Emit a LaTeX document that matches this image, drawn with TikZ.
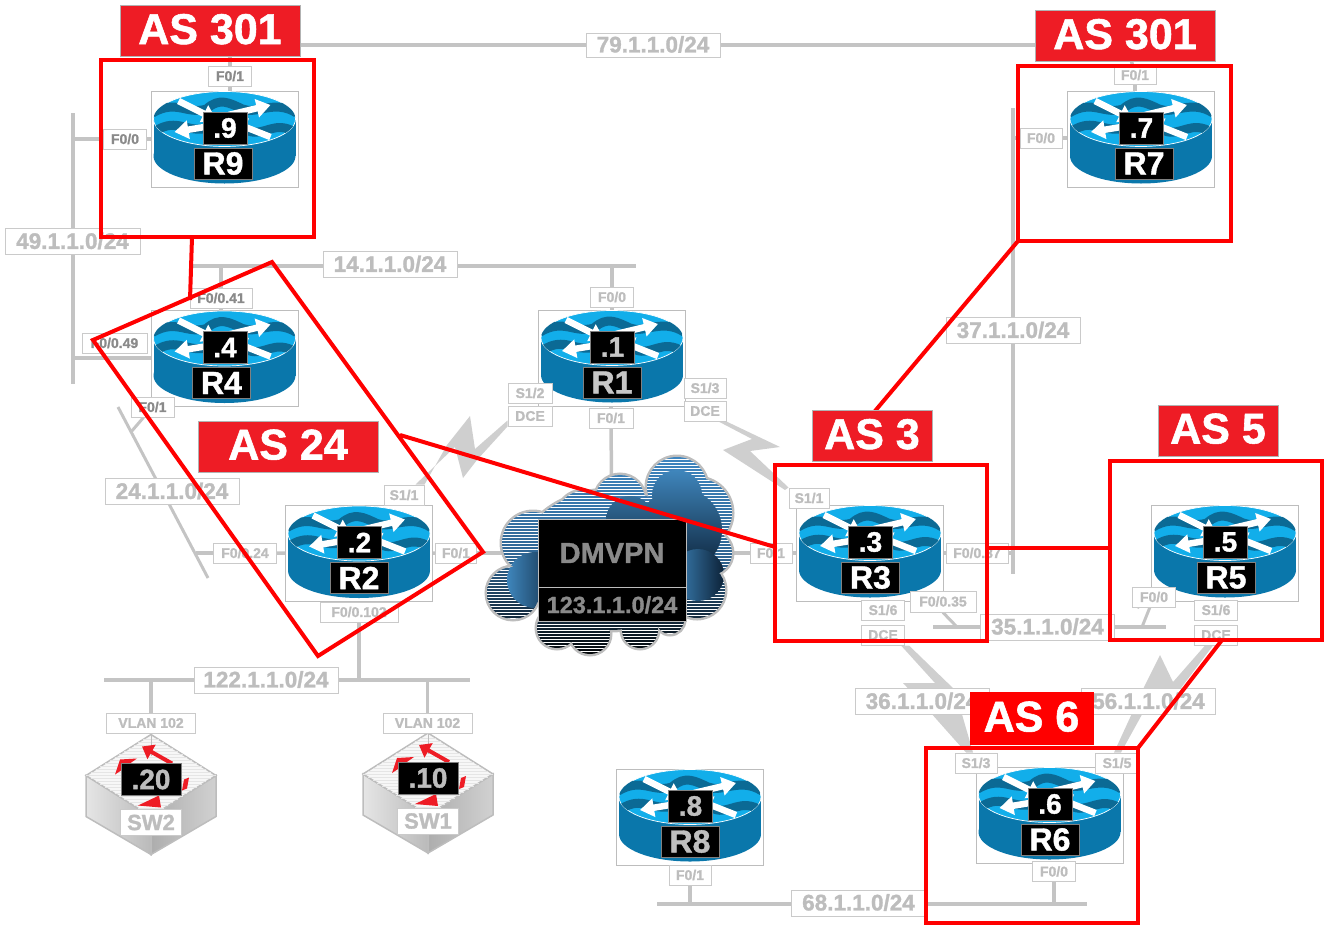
\documentclass[tikz,border=0pt]{standalone}
\usepackage{fontspec}
\setmainfont[BoldFeatures={FakeBold=1.3}]{Liberation Sans}
\usetikzlibrary{positioning, calc, arrows.meta, backgrounds}
\definecolor{lnkgray}{HTML}{C4C4C4}
\definecolor{sergray}{HTML}{CFCFCF}
\definecolor{lblgray}{HTML}{BDBDBD}
\definecolor{lbldark}{HTML}{8A8A8A}
\definecolor{asred}{HTML}{EE1C25}
\definecolor{rtrbody}{HTML}{0A77AB}
\definecolor{rtrtop}{HTML}{12AEEA}
\definecolor{rtrwave}{HTML}{0B6A95}
\definecolor{cldtop}{HTML}{3F86C0}
\definecolor{cldmid}{HTML}{2F6592}
\definecolor{blobtop}{HTML}{3F86BC}
\definecolor{blobend}{HTML}{0C2238}
\tikzset{
  lbl/.style={draw=lblgray!80, line width=1pt, fill=white, text=lblgray, font=\bfseries\fontsize{14}{14}\selectfont, inner sep=0pt, minimum height=20pt},
  netlbl/.style={lbl, font=\bfseries\fontsize{22.5}{22}\selectfont, minimum height=26pt, minimum width=134pt, text depth=1.5pt},
  lnk/.style={draw=lnkgray, line width=3.5pt},
  ser/.style={fill=sergray},
  redln/.style={draw=red, line width=4pt, line join=miter},
  asbox/.style={fill=asred, draw=gray!60, line width=.6pt, text=white, font=\bfseries\fontsize{43}{40}\selectfont, inner sep=0pt, minimum height=51pt, text depth=4pt},
  ipbox/.style={fill=black, draw=gray, line width=.8pt, font=\bfseries\fontsize{28}{28}\selectfont, inner sep=0pt, minimum width=44pt, minimum height=32pt},
  namebox/.style={fill=black, draw=gray, line width=.8pt, font=\bfseries\fontsize{32}{31}\selectfont, inner sep=0pt, minimum width=58pt, minimum height=31pt},
  rtrbox/.style={draw=lblgray, line width=1pt, fill=white, minimum width=147pt, minimum height=96pt, inner sep=0pt},
  rtrarr/.style={draw=white, line width=6.5pt, -{Triangle[length=14pt,width=18pt]}},
}
% router: name, x, y, ip, shift of the name
\newcommand{\router}[6][white]{
  \node[rtrbox] (#2) at (#3,#4) {};
  \begin{scope}[shift={(#3,#4)}]
    \fill[rtrbody] (0,17) ellipse [x radius=71pt, y radius=27.5pt];
    \fill[rtrbody] (-71,-20) rectangle (71,17);
    \draw[white, fill=rtrtop, line width=.7pt] (0,-20) ellipse [x radius=71pt, y radius=27.5pt];
    \begin{scope}
      \clip (0,-20) ellipse [x radius=71pt, y radius=27.5pt];
      \draw[rtrwave, line width=9pt] (-72,-26) .. controls (-48,-40) and (-38,-24) .. (-18,-30) .. controls (-5,-42) and (5,-36) .. (18,-30) .. controls (32,-24) and (50,-40) .. (72,-26);
      \draw[rtrwave, line width=9pt] (-72,-6) .. controls (-50,-22) and (-40,-8) .. (-22,-10) .. controls (0,-18) and (12,-14) .. (24,-8) .. controls (40,-2) and (50,-20) .. (72,-6);
    \end{scope}
    \draw[rtrarr] (-46,-38) -- (-8,-19);
    \draw[rtrarr] (4,-24) -- (46,-34);
    \draw[rtrarr] (-8,-14) -- (-50,-7);
    \draw[rtrarr] (46,-2) -- (8,-17);
    \node[ipbox, text=#1] (#2ip) at (0.5,-11) {#5};
    \node[namebox, text=#1] (#2nm) at (#6,24.5) {#2};
  \end{scope}
}
% switch: name, x, y, ip
\newcommand{\swbox}[4]{
  \begin{scope}[shift={(#2,#3)}]
    \coordinate (#1) at (0,0);
    \shade[left color=black!10, right color=black!27, draw=lblgray, line width=1.5pt] (-65,0) -- (0,41) -- (0,79) -- (-65,41) -- cycle;
    \shade[left color=black!32, right color=black!18, draw=lblgray, line width=1.5pt] (65,0) -- (0,41) -- (0,79) -- (65,41) -- cycle;
    \draw[lblgray, line width=1.5pt, fill=black!3] (0,-41) -- (65,0) -- (0,41) -- (-65,0) -- cycle;
    \foreach \yy in {-36,-33,...,36} \draw[black!10, line width=.5pt] ({-65*(1-abs(\yy)/41)},\yy) -- ({65*(1-abs(\yy)/41)},\yy);
    \draw[lblgray, line width=1pt] (0,-41) -- (0,-20);
    \draw[asred, line width=4pt, -{Triangle[length=11pt,width=16pt]}] (21,-12) -- (-9,-29);
    \fill[asred] (-36,-1) -- (-31,-16) -- (-14,-17) -- (-24,-10) -- (-30,-5) -- cycle;
    \fill[asred] (33,4) -- (38,2) -- (36,13) -- (31,15) -- cycle;
    \fill[asred] (-13,30) -- (8,20) -- (10,32) -- cycle;
    \node[ipbox, text=lblgray, minimum width=60pt] (#1ip) at (0,4) {#4};
    \node[lbl, font=\bfseries\fontsize{22}{22}\selectfont, minimum width=61pt, minimum height=26pt] (#1nm) at (0,47) {#1};
  \end{scope}
}
\begin{document}
\begin{tikzpicture}[x=1pt, y=-1pt]
\useasboundingbox (0,0) rectangle (1324,926);
% routers
\router{R9}{224.5}{139}{.9}{-1.5}
\router{R7}{1141}{139}{.7}{3}
\router{R4}{224.5}{358.5}{.4}{-3}
\router[black!22]{R1}{612}{358}{.1}{0}
\router{R2}{359}{553.5}{.2}{0}
\router{R3}{870}{553}{.3}{0.5}
\router{R5}{1225}{553}{.5}{1}
\router[black!25]{R8}{690}{817}{.8}{0}
\router{R6}{1049.5}{815}{.6}{0.5}
\swbox{SW2}{151}{775.5}{.20}
\swbox{SW1}{428}{774}{.10}
% cloud
\def\cloudpath{(677,487) circle (30pt) (697,513) circle (35pt) (710,553) circle (22pt) (697,590) circle (28pt) (670,620) circle (14pt) (640,630) circle (18pt) (590,634) circle (20pt) (557,628) circle (20pt) (513,593) circle (26pt) (533,543) circle (31pt) (583,517) circle (26pt) (620,500) circle (25pt) (610,560) ellipse [x radius=90pt, y radius=70pt]}
\draw[lblgray, line width=5pt] \cloudpath;
\begin{scope}
  \clip \cloudpath;
  \shade[top color=cldtop, bottom color=black, middle color=cldmid] (480,455) rectangle (740,660);
  \foreach \yy in {456,459,...,660} \draw[white, line width=.8pt] (480,\yy) -- (740,\yy);
  \shade[top color=blobtop, bottom color=blobend] (677,495) circle (25pt) (680,530) circle (42pt) (630,520) circle (24pt);
  \shade[left color=blobtop, right color=blobend] (698,575) circle (26pt);
  \shade[left color=blobtop, right color=blobend] (535,580) circle (28pt);
\end{scope}
\node[fill=black, draw=lblgray, line width=.8pt, minimum width=148pt, minimum height=68pt, inner sep=0pt, text=lbldark, font=\bfseries\fontsize{29}{28}\selectfont] (dmvpn) at (612,553) {DMVPN};
\node[fill=black, draw=lblgray, line width=.8pt, minimum width=148pt, minimum height=34pt, inner sep=0pt, text=lbldark, font=\bfseries\fontsize{23.5}{22}\selectfont, below=0pt of dmvpn] (net123) {123.1.1.0/24};
% labels
\node[lbl, text=lbldark, minimum width=43pt] (r9f1) at (230,76) {F0/1};
\node[lbl, text=lbldark, minimum width=43pt] (r9f0) at (125,139) {F0/0};
\node[lbl, minimum width=42pt, minimum height=18pt] (r7f1) at (1135,75) {F0/1};
\node[lbl, minimum width=42pt] (r7f0) at (1041,138) {F0/0};
\node[lbl, text=lbldark, minimum width=62pt] (r4f41) at (221,298) {F0/0.41};
\node[lbl, text=lbldark, minimum width=65pt] (r4f49) at (114.5,343) {F0/0.49};
\node[lbl, text=lbldark, minimum width=43pt] (r4f1) at (152.5,407) {F0/1};
\node[lbl, minimum width=43pt] (r1f0) at (612,297) {F0/0};
\node[lbl, minimum width=44pt] (r1s2) at (530,393) {S1/2};
\node[lbl, minimum width=44pt] (r1d2) at (530,416) {DCE};
\node[lbl, minimum width=42pt] (r1s3) at (705,388) {S1/3};
\node[lbl, minimum width=42pt] (r1d3) at (705,411) {DCE};
\node[lbl, minimum width=44pt] (r1f1) at (611,418) {F0/1};
\node[lbl, minimum width=40pt] (r2s1) at (404,495) {S1/1};
\node[lbl, minimum width=63pt] (r2f24) at (245,553) {F0/0.24};
\node[lbl, minimum width=41pt] (r2f1) at (456,553) {F0/1};
\node[lbl, minimum width=78pt] (r2f102) at (359,612) {F0/0.102};
\node[lbl, minimum width=40pt] (r3s1) at (809,498) {S1/1};
\node[lbl, minimum width=42pt] (r3f1) at (771,553) {F0/1};
\node[lbl, minimum width=62pt] (r3f37) at (977,553) {F0/0.37};
\node[lbl, minimum width=66pt, minimum height=21pt] (r3f35) at (943,601.5) {F0/0.35};
\node[lbl, minimum width=43pt] (r3s6) at (883,610) {S1/6};
\node[lbl, minimum width=43pt] (r3d6) at (883,635) {DCE};
\node[lbl, minimum width=43pt] (r5f0) at (1154,597) {F0/0};
\node[lbl, minimum width=43pt] (r5s6) at (1216,610) {S1/6};
\node[lbl, minimum width=43pt] (r5d6) at (1216,635) {DCE};
\node[lbl, minimum width=42pt] (r6s3) at (976,763) {S1/3};
\node[lbl, minimum width=43pt] (r6s5) at (1117,763) {S1/5};
\node[lbl, minimum width=43pt] (r6f0) at (1054,871.5) {F0/0};
\node[lbl, minimum width=42pt] (r8f1) at (690,875) {F0/1};
\node[lbl, minimum width=89pt] (sw2v) at (151,723) {VLAN 102};
\node[lbl, minimum width=89pt] (sw1v) at (427.5,723) {VLAN 102};
% networks
\node[netlbl, minimum height=24pt] (n79) at (653,45) {79.1.1.0/24};
\node[netlbl, minimum width=135pt] (n49) at (72.5,241.5) {49.1.1.0/24};
\node[netlbl] (n14) at (390,264.5) {14.1.1.0/24};
\node[netlbl] (n37) at (1013,330.5) {37.1.1.0/24};
\node[netlbl] (n24) at (172,491.5) {24.1.1.0/24};
\node[netlbl, minimum width=144pt] (n122) at (266,680) {122.1.1.0/24};
\node[netlbl] (n35) at (1047.5,627) {35.1.1.0/24};
\node[netlbl] (n36) at (922,701.5) {36.1.1.0/24};
\node[netlbl] (n56) at (1148.5,701.5) {56.1.1.0/24};
\node[netlbl] (n68) at (858.5,903) {68.1.1.0/24};
% free ends
\coordinate (lan49a) at (73,113);
\coordinate (lan49b) at (73,384);
\coordinate (lan49c) at (73,358);
\coordinate (lan14a) at (190,266);
\coordinate (lan14b) at (636,266);
\coordinate (lan37a) at (1013,108);
\coordinate (lan37b) at (1013,574);
\coordinate (lan24a) at (118,407);
\coordinate (lan24b) at (208,578);
\coordinate (lan24c) at (196,553);
\coordinate (lan24d) at (131,432);
\coordinate (lan122a) at (104,680);
\coordinate (lan122b) at (470,680);
\coordinate (lan35a) at (933,627);
\coordinate (lan35b) at (1166,627);
\coordinate (lan68a) at (657,904);
\coordinate (lan68b) at (1087,904);
% red
\draw[redln] (101,60) rectangle (314,237);
\draw[redln] (1018,66) rectangle (1231,241);
\draw[redln] (775,465) rectangle (987,641);
\draw[redln] (1110,461) rectangle (1322,640);
\draw[redln] (926,748) rectangle (1138,923);
\draw[redln] (272,262) -- (483,552) -- (318,656) -- (93,340) -- cycle;
\draw[redln] (192,237) -- (190,300);
\draw[redln] (1018,241) -- (875,411);
\draw[redln] (400,435) -- (775,547);
\draw[redln] (987,548) -- (1110,548);
\draw[redln] (1222,640) -- (1138,748);
\node[asbox, minimum width=180pt] (as301a) at (210,31) {AS 301};
\node[asbox, minimum width=180pt] (as301b) at (1125,36) {AS 301};
\node[asbox, minimum width=180pt] (as24) at (288,446.5) {AS 24};
\node[asbox, minimum width=120pt] (as3) at (872,436) {AS 3};
\node[asbox, minimum width=120pt] (as5) at (1218,430.5) {AS 5};
\node[asbox, fill=red, draw=red, minimum width=123pt, minimum height=52pt] (as6) at (1031.5,718.5) {AS 6};
% links
\begin{pgfonlayer}{background}
\draw[lnk] (n79 -| as301a.east) -- (n79 -| as301b.west);
\draw[lnk] (r9f1) -- (R9.north -| r9f1);
\draw[lnk] (r9f1) -- (as301a.south -| r9f1);
\draw[lnk] (lan49a) -- (lan49b);
\draw[lnk] (lan49a |- r9f0) -- (r9f0);
\draw[lnk] (r9f0) -- (R9.west |- r9f0);
\draw[lnk] (lan14a) -- (lan14b);
\draw[lnk] (r4f41) -- (lan14a -| r4f41);
\draw[lnk] (r4f41) -- (R4.north -| r4f41);
\draw[lnk] (r1f0) -- (lan14a -| r1f0);
\draw[lnk] (r1f0) -- (R1.north -| r1f0);
\draw[lnk] (lan49c) -- (lan49c -| R4.west);
\draw[lnk, line width=3pt] (lan24a) -- (lan24b);
\draw[lnk, line width=3pt] (r4f1) -- (lan24d);
\draw[lnk] (lan24c) -- (r2f24);
\draw[lnk] (r2f24) -- (R2);
\draw[lnk] (R2) -- (r2f1);
\draw[lnk] (r2f1) -- (dmvpn);
\draw[lnk] (dmvpn) -- (r3f1);
\draw[lnk] (r3f1) -- (R3);
\draw[lnk] (r1f1) -- (dmvpn);
\draw[lnk] (r1f1) -- (R1.south -| r1f1);
\draw[lnk] (r2f102) -- (lan122a -| r2f102);
\draw[lnk] (r2f102) -- (R2.south -| r2f102);
\draw[lnk] (lan122a) -- (lan122b);
\draw[lnk] (lan122a -| sw2v) -- (sw2v);
\draw[lnk] (lan122a -| sw1v) -- (sw1v);
\draw[lnk] (lan37a) -- (lan37b);
\draw[lnk] (lan37a |- r7f0) -- (r7f0);
\draw[lnk] (r7f0) -- (R7.west |- r7f0);
\draw[lnk] (r7f1) -- (as301b);
\draw[lnk] (r7f1) -- (R7.north -| r7f1);
\draw[lnk] (r3f37) -- (lan37a |- r3f37);
\draw[lnk] (r3f37) -- (R3);
\draw[lnk] (lan35a) -- (lan35b);
\draw[lnk, line width=3pt] (r3f35.south) -- (957,627);
\draw[lnk, line width=3pt] (r3f35.north west) -- (928,585);
\draw[lnk, line width=3pt] (r5f0) -- (1142,627);
\draw[lnk] (r5f0) -- (R5);
\draw[lnk] (r3s6) -- (R3.south -| r3s6);
\draw[lnk] (r5s6) -- (R5.south -| r5s6);
\draw[lnk] (r6f0) -- (lan68a -| r6f0);
\draw[lnk] (r6f0) -- (R6.south -| r6f0);
\draw[lnk] (r8f1) -- (lan68a -| r8f1);
\draw[lnk] (r8f1) -- (R8.south -| r8f1);
\draw[lnk] (lan68a) -- (lan68b);
\draw[lnk, line width=2pt] (r3s1) -- (R3);
\draw[lnk, line width=2pt] (r6s3) -- (R6);
\draw[lnk, line width=2pt] (r6s5) -- (R6);
% serial
\fill[ser] (r2s1.north east) -- (447,445) -- (470,416) -- (475,449) -- ($(r1d2.south west)+(0,-6)$) -- (r1d2.south west) -- (477,460) -- (463,478) -- (455,447) -- ($(r2s1.north east)+(-9,0)$) -- cycle;
\fill[ser] (r1d3.south east) -- (780,447) -- (750,451) -- (r3s1.north west) -- (785,490) -- (723,450) -- (752,439) -- ($(r1d3.south east)+(-8,0)$) -- cycle;
\fill[ser] ($(r3d6.south east)+(4,0)$) -- (955,690) -- ($(r6s3.north)+(-3,0)$) -- ($(r6s3.north)+(-10,0)$) -- (930,712) -- (903,683) -- (935,683) -- ($(r3d6.south east)+(-4,0)$) -- cycle;
\fill[ser] ($(r5d6.south)+(-3,0)$) -- (1178,692) -- (1150,700) -- ($(r6s5.north)+(4,0)$) -- ($(r6s5.north)+(-3,0)$) -- (1145,685) -- (1160,655) -- (1173,682) -- ($(r5d6.south)+(-11,0)$) -- cycle;
\end{pgfonlayer}
\end{tikzpicture}
\end{document}
